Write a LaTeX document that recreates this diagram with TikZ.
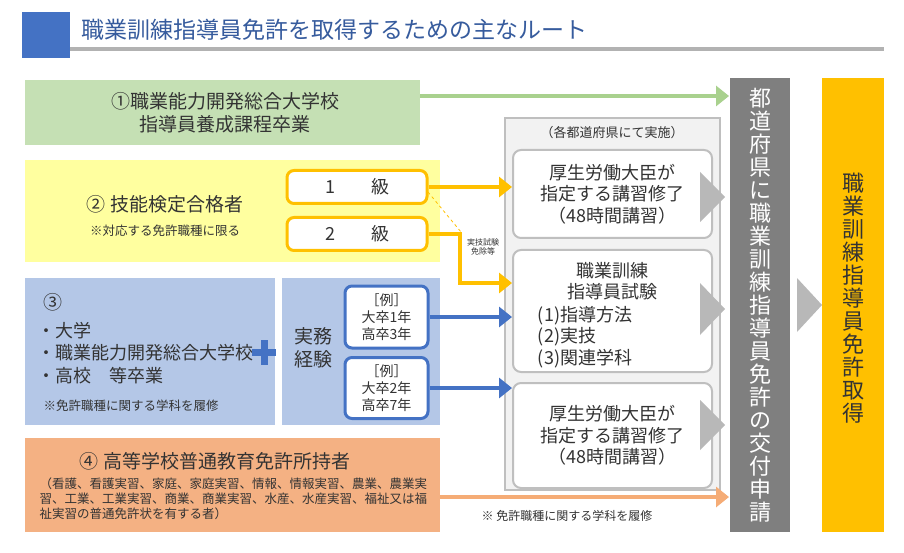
\documentclass[tikz,border=0pt]{standalone}
\usepackage{fontspec}
\setmainfont{Noto Sans CJK JP}
\usetikzlibrary{arrows.meta}
\definecolor{gbox}{HTML}{C5E0B4}
\definecolor{ybox}{HTML}{FFFF9F}
\definecolor{bbox}{HTML}{B4C7E7}
\definecolor{obox}{HTML}{F4B183}
\definecolor{gold}{HTML}{FFC000}
\definecolor{blu}{HTML}{4472C4}
\definecolor{dgray}{HTML}{7F7F7F}
\definecolor{lgray}{HTML}{F2F2F2}
\definecolor{txt}{HTML}{333333}
\definecolor{garr}{HTML}{A9D18E}
\tikzset{
 fs/.style={font=\fontsize{#1pt}{\dimexpr #1pt*12/10\relax}\selectfont},
 vt/.style={font=\fontsize{22pt}{23pt}\selectfont,align=center,inner sep=0},
 wbox/.style={draw=#1,line width=3pt,rounded corners=7pt,fill=white},
 gbx/.style={draw=black!25,line width=2pt,rounded corners=8pt,fill=white},
 arr/.style={line width=3.5pt,draw=#1,-{Triangle[length=13pt,width=20pt]}},
 chev/.style={fill=black!28,draw=none},
}
\begin{document}
\begin{tikzpicture}[x=1pt,y=-1pt,text=txt]
\useasboundingbox (0,0) rectangle (904,553);
% title
\fill[blu] (22,12) rectangle (70,58);
\fill[black!30] (70,47) rectangle (884,51);
\node[anchor=west,fs=23,text=blu!80!black] (title) at (78,30) {職業訓練指導員免許を取得するための主なルート};
% 1
\fill[gbox] (25,80) rectangle (420,145);
\node[fs=19,align=center] (t1) at (225,113) {①職業能力開発総合大学校\\指導員養成課程卒業};
% 2
\fill[ybox] (25,160) rectangle (440,262);
\node[fs=19] (t2) at (165,204) {② 技能検定合格者};
\node[fs=12.5] (t2b) at (165,231) {※対応する免許職種に限る};
\node[wbox=gold,minimum width=140pt,minimum height=33pt,fs=18] (k1) at (357,187) {1\hspace{2em}級};
\node[wbox=gold,minimum width=140pt,minimum height=33pt,fs=18] (k2) at (357,234) {2\hspace{2em}級};
% 3
\fill[bbox] (25,278) rectangle (275,425);
\node[fs=19,anchor=west] (t3) at (40,302) {③};
\node[fs=18,anchor=west,align=left] (t3b) at (34,353) {・大学\\[1pt]・職業能力開発総合大学校\\[1pt]・高校\hspace{1em}等卒業};
\node[fs=12.5,anchor=west] (t3c) at (40,406) {※免許職種に関する学科を履修};
\fill[blu] (252,349) rectangle (276,356);
\fill[blu] (260.5,340) rectangle (267.5,365);
\fill[bbox] (282,278) rectangle (440,425);
\node[fs=19,align=center] (jm) at (313,348) {実務\\経験};
\node[wbox=blu,minimum width=83pt,minimum height=62pt,fs=14,align=center,inner sep=1pt] (e1) at (386.5,317) {［例］\\大卒1年\\高卒3年};
\node[wbox=blu,minimum width=83pt,minimum height=61pt,fs=14,align=center,inner sep=1pt] (e2) at (386.5,388) {［例］\\大卒2年\\高卒7年};
% 4
\fill[obox] (25,438) rectangle (440,532);
\node[fs=19] (t4) at (215,461) {④ 高等学校普通教育免許所持者};
\node[fs=12.5,anchor=north west,align=left] (t4b) at (36,474) {（看護、看護実習、家庭、家庭実習、情報、情報実習、農業、農業実\\習、工業、工業実習、商業、商業実習、水産、水産実習、福祉又は福\\祉実習の普通免許状を有する者）};
% center panel
\fill[lgray,draw=black!25,line width=2pt] (505,118) rectangle (720,490);
\node[fs=13] (pref) at (612,133) {（各都道府県にて実施）};
\node[gbx,minimum width=199pt,minimum height=88pt] (A) at (612.5,194) {};
\node[fs=18,align=center] at (A) {厚生労働大臣が\\指定する講習修了\\（48時間講習）};
\node[gbx,minimum width=199pt,minimum height=122pt] (B) at (612.5,311) {};
\node[fs=18,align=center] at (612.5,281) {職業訓練\\指導員試験};
\node[fs=18,align=left] at (585,337) {(1)指導方法\\(2)実技\\(3)関連学科};
\node[gbx,minimum width=199pt,minimum height=105pt] (C) at (612.5,435.5) {};
\node[fs=18,align=center] at (C) {厚生労働大臣が\\指定する講習修了\\（48時間講習）};
% chevrons
\fill[chev] (700,172) -- (725,197) -- (700,222) -- cycle;
\fill[chev] (700,283) -- (725,309) -- (700,335) -- cycle;
\fill[chev] (700,400) -- (725,425) -- (700,450) -- cycle;
\fill[chev] (797,278) -- (822,305) -- (797,332) -- cycle;
% right bars
\fill[dgray] (730,78) rectangle (790,532);
\node[vt,text=white] (apply) at (760,305) {都\\道\\府\\県\\に\\職\\業\\訓\\練\\指\\導\\員\\免\\許\\の\\交\\付\\申\\請};
\fill[gold] (822,78) rectangle (884,532);
\node[vt] (get) at (853,298) {職\\業\\訓\\練\\指\\導\\員\\免\\許\\取\\得};
\coordinate (bar1) at (729,96);
\coordinate (bar4) at (729,497);
% arrows
\draw[arr=garr] (420,96) -- (bar1);
\draw[arr=gold] (k1.east) -- (A.west|-k1.east);
\draw[arr=gold] (k2.east) -- (460,234) -- (460,283) -- (B.west|-0,283);
\draw[gold,dashed,line width=0.8pt] (428,192) -- (461,232);
\node[fs=8,align=center,inner sep=0] (exm) at (483,247) {実技試験\\免除等};
\draw[arr=blu] (e1.east) -- (B.west|-e1.east);
\draw[arr=blu] (e2.east) -- (C.west|-e2.east);
\draw[arr=obox!90!orange] (440,497) -- (bar4);
\node[fs=12] (note) at (567,516) {※ 免許職種に関する学科を履修};
\end{tikzpicture}
\end{document}
